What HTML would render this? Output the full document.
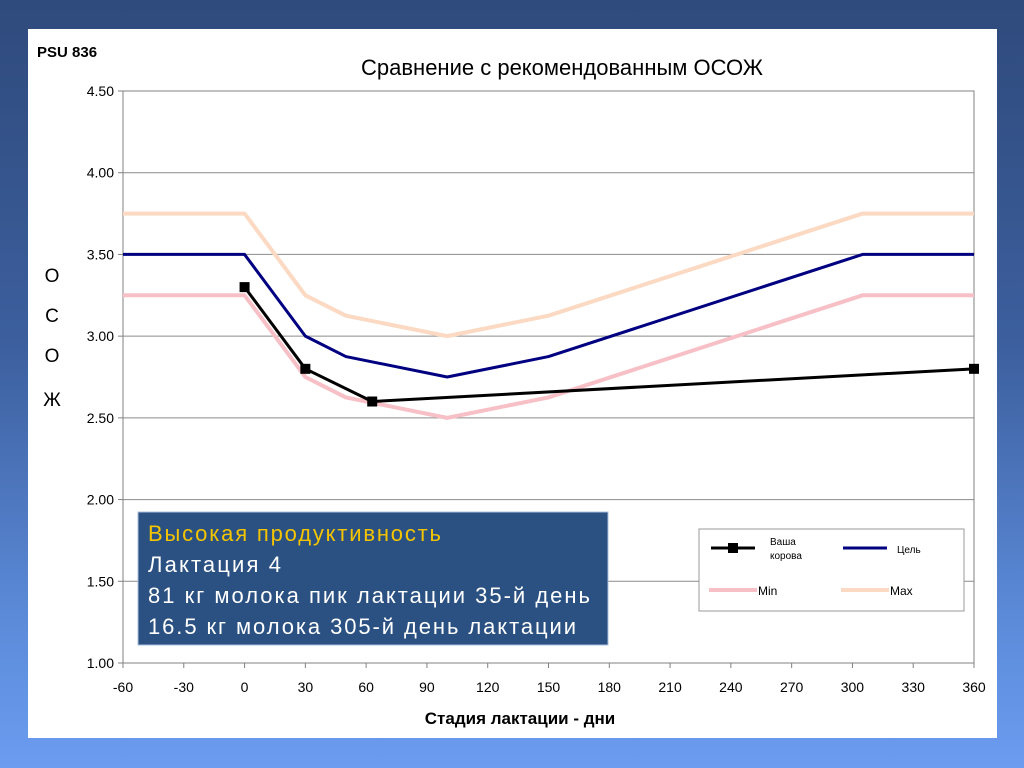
<!DOCTYPE html>
<html><head><meta charset="utf-8"><style>
html,body{margin:0;padding:0;width:1024px;height:768px;overflow:hidden}
body{background:linear-gradient(#2f4a7c 0%,#3c5f9e 45%,#5b8ad8 80%,#6b9cf0 100%)}
svg{position:absolute;left:0;top:0;font-family:"Liberation Sans","DejaVu Sans",sans-serif}
</style></head><body>
<svg width="1024" height="768">
<rect x="28" y="29" width="969" height="709" fill="#fff"/>
<text x="37" y="57" font-size="15" font-weight="bold">PSU 836</text>
<text x="562" y="75" font-size="22" text-anchor="middle">Сравнение с рекомендованным ОСОЖ</text>
<g id="grid"></g><g id="axes"></g><g id="series"></g>
<g font-size="19" text-anchor="middle">
<text x="52" y="282">О</text><text x="52" y="322">С</text><text x="52" y="362">О</text><text x="52" y="406">Ж</text></g>
<text x="520" y="724" font-size="17" font-weight="bold" text-anchor="middle">Стадия лактации - дни</text>
<g>
<rect x="138" y="512" width="470" height="133" fill="#2b5182" stroke="#a9c0dc" stroke-width="1"/>
<text x="148" y="541" font-size="22" fill="#f4c400" textLength="293">Высокая продуктивность</text>
<text x="148" y="572" font-size="22" fill="#fff" textLength="133">Лактация 4</text>
<text x="148" y="603" font-size="22" fill="#fff" textLength="442">81 кг молока пик лактации 35-й день</text>
<text x="148" y="634" font-size="22" fill="#fff" textLength="428">16.5 кг молока 305-й день лактации</text>
</g>
<g>
<rect x="699" y="529" width="265" height="82" fill="#fff" stroke="#999"/>
<line x1="711" y1="548" x2="755" y2="548" stroke="#000" stroke-width="3"/><rect x="728" y="543" width="10" height="10" fill="#000"/>
<text x="770" y="545" font-size="10">Ваша</text><text x="770" y="559" font-size="10">корова</text>
<line x1="843" y1="548" x2="887" y2="548" stroke="#000080" stroke-width="3"/>
<text x="897" y="553" font-size="10">Цель</text>
<line x1="709" y1="590" x2="757" y2="590" stroke="#f7c0c6" stroke-width="4"/>
<text x="758" y="595" font-size="12">Min</text>
<line x1="841" y1="590" x2="889" y2="590" stroke="#fbd9c2" stroke-width="4"/>
<text x="890" y="595" font-size="12">Max</text>
</g>
</svg>
<script>
const xTicks=[-60,-30,0,30,60,90,120,150,180,210,240,270,300,330,360];
const yTicks=[1.0,1.5,2.0,2.5,3.0,3.5,4.0,4.5];
const targetX=[-60,0,30,50,100,150,305,360];
const targetY=[3.5,3.5,3.0,2.875,2.75,2.875,3.5,3.5];
const minX=[-60,0,30,50,100,150,305,360];
const minY=[3.25,3.25,2.75,2.625,2.5,2.625,3.25,3.25];
const maxX=[-60,0,30,50,100,150,305,360];
const maxY=[3.75,3.75,3.25,3.125,3.0,3.125,3.75,3.75];
const cowX=[0,30,63,360];
const cowY=[3.3,2.8,2.6,2.8];
const NS="http://www.w3.org/2000/svg";
const X0=123,X1=974,Y0=663,Y1=91;
function sx(v){return X0+(v+60)/420*(X1-X0);}
function sy(v){return Y0-(v-1)/3.5*(Y0-Y1);}
function mk(t,a,p){const e=document.createElementNS(NS,t);for(const k in a)e.setAttribute(k,a[k]);p.appendChild(e);return e;}
const grid=document.getElementById('grid'),axes=document.getElementById('axes'),ser=document.getElementById('series');
yTicks.forEach(v=>{
 const l=mk('line',{x1:X0,x2:X1,y1:sy(v),y2:sy(v),stroke:'#8c8c8c','stroke-width':1},grid);
 
 
 mk('line',{x1:X0-5,x2:X0,y1:sy(v),y2:sy(v),stroke:'#808080'},axes);
 const t=mk('text',{x:X0-9,y:sy(v)+5,'font-size':14,'text-anchor':'end'},axes);
 t.textContent=v.toFixed(2);
 
 
});
mk('rect',{x:X0,y:Y1,width:X1-X0,height:Y0-Y1,fill:'none',stroke:'#808080'},axes);
xTicks.forEach(v=>{
 mk('line',{x1:sx(v),x2:sx(v),y1:Y0,y2:Y0+5,stroke:'#808080'},axes);
 const t=mk('text',{x:sx(v),y:Y0+29,'font-size':14,'text-anchor':'middle'},axes);
 t.textContent=v;
 
 
});
function line(xs,ys,col,w,name){
 const p=mk('polyline',{points:xs.map((x,i)=>sx(x)+','+sy(ys[i])).join(' '),fill:'none',stroke:col,'stroke-width':w,'stroke-linejoin':'round'},ser);
 
 
}
line(maxX,maxY,'#fbd9c2',4,'max-line');
line(minX,minY,'#f7c0c6',4,'min-line');
line(targetX,targetY,'#000080',3,'target-line');
line(cowX,cowY,'#000',3,'cow-line');
cowX.forEach((x,i)=>{
 const r=mk('rect',{x:sx(x)-5,y:sy(cowY[i])-5,width:10,height:10,fill:'#000'},ser);
 
 
});
</script>
</body></html>
